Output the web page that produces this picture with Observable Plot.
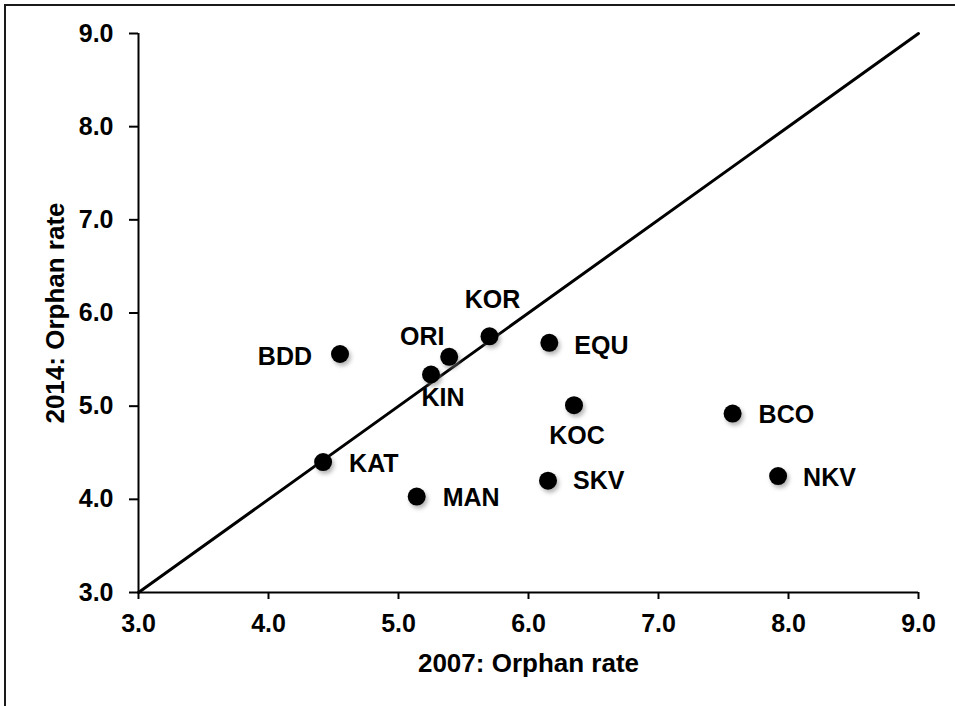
<!DOCTYPE html>
<html>
<head>
<meta charset="utf-8">
<script src="https://cdn.jsdelivr.net/npm/d3@7"></script>
<script src="https://cdn.jsdelivr.net/npm/@observablehq/plot@0.6"></script>
<style>
  html, body { margin: 0; padding: 0; background: #fff; overflow: hidden; }
  #wrap { position: relative; width: 955px; height: 706px; }
  #frame { position: absolute; left: 4px; top: 4px; width: 1000px; height: 1000px;
           border-left: 2px solid #1a1a1a; border-top: 2px solid #1a1a1a; box-sizing: border-box; }
  #chart { position: absolute; left: 0; top: 0; }
</style>
</head>
<body>
<div id="wrap"><div id="frame"></div><div id="chart"></div></div>
<script>
const sites    = ["BDD", "ORI", "KIN", "KOR", "EQU", "KOC", "KAT", "MAN", "SKV", "BCO", "NKV"];
const rate2007 = [4.55, 5.39, 5.25, 5.70, 6.16, 6.35, 4.42, 5.14, 6.15, 7.57, 7.92];
const rate2014 = [5.56, 5.53, 5.34, 5.75, 5.68, 5.01, 4.40, 4.03, 4.20, 4.92, 4.25];
const axisTicks = [3, 4, 5, 6, 7, 8, 9];
const diagonal = [3, 9];
const xTitle = "2007: Orphan rate";
const yTitle = "2014: Orphan rate";

// label placement (layout only)
const labelPlacement = {
  BDD: {anchor: "end",    dx: -28, dy: 3},
  ORI: {anchor: "middle", dx: -27, dy: -20},
  KIN: {anchor: "middle", dx: 12,  dy: 24},
  KOR: {anchor: "middle", dx: 3,   dy: -36},
  EQU: {anchor: "start",  dx: 25,  dy: 3},
  KOC: {anchor: "middle", dx: 3,   dy: 31},
  KAT: {anchor: "start",  dx: 26,  dy: 2},
  MAN: {anchor: "start",  dx: 26,  dy: 1},
  SKV: {anchor: "start",  dx: 25,  dy: 0},
  BCO: {anchor: "start",  dx: 26,  dy: 1},
  NKV: {anchor: "start",  dx: 25,  dy: 2}
};

const table = sites.map((s, i) => ({site: s, x: rate2007[i], y: rate2014[i]}));
const fmt = d3.format(".1f");
const FONT = "'Liberation Sans', Arial, Helvetica, sans-serif";

const labelMarks = sites.map(s => {
  const p = labelPlacement[s];
  return Plot.text(table.filter(d => d.site === s), {
    x: "x", y: "y", text: "site", textAnchor: p.anchor, dx: p.dx, dy: p.dy,
    fontSize: 25, fontWeight: "bold", fill: "#000"
  });
});

const chart = Plot.plot({
  width: 955,
  height: 706,
  marginLeft: 138,
  marginRight: 37,
  marginTop: 33,
  marginBottom: 114,
  style: {fontFamily: FONT, fontWeight: "bold", background: "transparent", color: "#000"},
  x: {domain: [3, 9]},
  y: {domain: [3, 9]},
  marks: [
    Plot.axisX(axisTicks, {tickSize: 7, tickPadding: 15, tickFormat: fmt, fontSize: 25, fontWeight: "bold", strokeWidth: 2, label: null}),
    Plot.axisY(axisTicks, {tickSize: 9, tickPadding: 16, tickFormat: fmt, fontSize: 25, fontWeight: "bold", strokeWidth: 2, label: null}),
    Plot.ruleY([3], {stroke: "#000", strokeWidth: 2}),
    Plot.ruleX([3], {stroke: "#000", strokeWidth: 2}),
    Plot.line(diagonal, {x: d => d, y: d => d, stroke: "#000", strokeWidth: 3}),
    Plot.dot(table, {x: "x", y: "y", r: 9, fill: "#777", fillOpacity: 0.55, stroke: "none", dx: 2, dy: 3, imageFilter: "blur(2px)"}),
    Plot.dot(table, {x: "x", y: "y", r: 9, fill: "#000", stroke: "none"}),
    ...labelMarks,
    Plot.text([xTitle], {frameAnchor: "bottom", textAnchor: "middle", lineAnchor: "middle", dy: 71, fontSize: 26, fontWeight: "bold", fill: "#000"}),
    Plot.text([yTitle], {frameAnchor: "left", textAnchor: "middle", lineAnchor: "middle", dx: -83, rotate: -90, fontSize: 26, fontWeight: "bold", fill: "#000"})
  ]
});
document.getElementById("chart").appendChild(chart);
</script>
</body>
</html>
